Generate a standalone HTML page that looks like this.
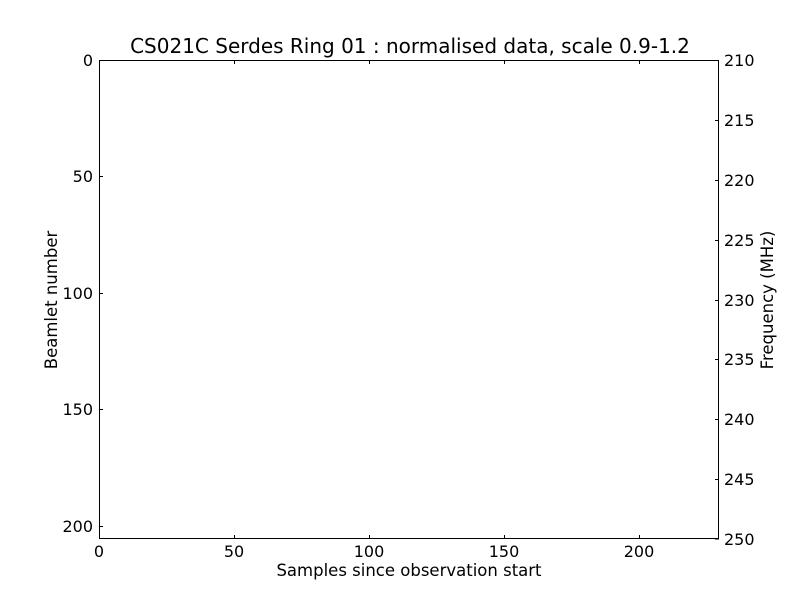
<!DOCTYPE html>
<html><head><meta charset="utf-8"><style>
html,body{margin:0;padding:0;background:#fff;}
svg text{font-family:"DejaVu Sans","Liberation Sans",sans-serif;fill:#000;}
</style></head><body>
<svg width="800" height="600" xmlns="http://www.w3.org/2000/svg">
<rect width="800" height="600" fill="#fff"/>
<rect x="99.5" y="60.5" width="619" height="478" fill="none" stroke="#000" stroke-width="1"/>
<g stroke="#000" stroke-width="1">
<line x1="99" y1="60.5" x2="103" y2="60.5"/>
<line x1="99" y1="176.5" x2="103" y2="176.5"/>
<line x1="99" y1="293.5" x2="103" y2="293.5"/>
<line x1="99" y1="409.5" x2="103" y2="409.5"/>
<line x1="99" y1="526.5" x2="103" y2="526.5"/>
<line x1="715" y1="60.5" x2="719" y2="60.5"/>
<line x1="715" y1="120.5" x2="719" y2="120.5"/>
<line x1="715" y1="180.5" x2="719" y2="180.5"/>
<line x1="715" y1="240.5" x2="719" y2="240.5"/>
<line x1="715" y1="300.5" x2="719" y2="300.5"/>
<line x1="715" y1="359.5" x2="719" y2="359.5"/>
<line x1="715" y1="419.5" x2="719" y2="419.5"/>
<line x1="715" y1="479.5" x2="719" y2="479.5"/>
<line x1="715" y1="539" x2="719" y2="539"/>
<line x1="99.5" y1="535" x2="99.5" y2="539"/>
<line x1="234.5" y1="535" x2="234.5" y2="539"/>
<line x1="369.5" y1="535" x2="369.5" y2="539"/>
<line x1="504.5" y1="535" x2="504.5" y2="539"/>
<line x1="639.5" y1="535" x2="639.5" y2="539"/>
<line x1="99.5" y1="60" x2="99.5" y2="64"/>
<line x1="234.5" y1="60" x2="234.5" y2="64"/>
<line x1="369.5" y1="60" x2="369.5" y2="64"/>
<line x1="504.5" y1="60" x2="504.5" y2="64"/>
<line x1="639.5" y1="60" x2="639.5" y2="64"/>
</g>
<g font-size="16" text-anchor="end">
<text x="93" y="66">0</text>
<text x="93" y="182">50</text>
<text x="93" y="299">100</text>
<text x="93" y="415">150</text>
<text x="93" y="532">200</text>
</g>
<g font-size="16" text-anchor="start">
<text x="724" y="66">210</text>
<text x="724" y="126">215</text>
<text x="724" y="186">220</text>
<text x="724" y="246">225</text>
<text x="724" y="306">230</text>
<text x="724" y="365">235</text>
<text x="724" y="425">240</text>
<text x="724" y="485">245</text>
<text x="724" y="545">250</text>
</g>
<g font-size="16" text-anchor="middle">
<text x="99" y="557">0</text>
<text x="234" y="557">50</text>
<text x="369" y="557">100</text>
<text x="504" y="557">150</text>
<text x="639" y="557">200</text>
<text x="409" y="576" font-size="16.5">Samples since observation start</text>
<text x="410" y="53" font-size="20">CS021C Serdes Ring 01 : normalised data, scale 0.9-1.2</text>
<text transform="translate(57,300) rotate(-90)" font-size="16.5">Beamlet number</text>
<text transform="translate(773,300) rotate(-90)" font-size="16.5">Frequency (MHz)</text>
</g>
</svg>
</body></html>
